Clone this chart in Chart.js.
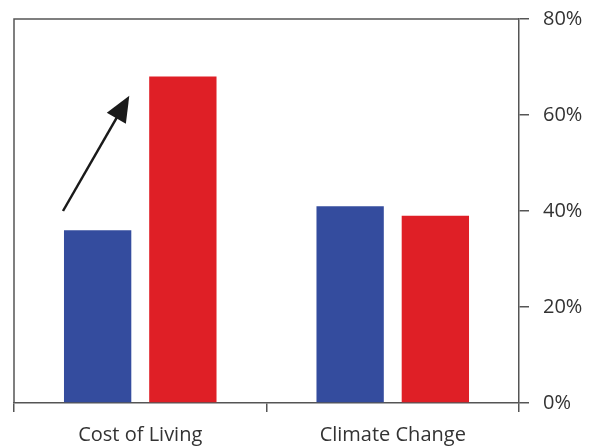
<!DOCTYPE html>
<html>
<head>
<meta charset="utf-8">
<script src="https://cdn.jsdelivr.net/npm/chart.js@4/dist/chart.umd.min.js"></script>
<style>
  html, body { margin: 0; padding: 0; background: #fff; }
  #wrap { width: 591px; height: 447px; }
</style>
</head>
<body>
<div id="wrap"><canvas id="c" width="591" height="447"></canvas></div>
<script>
// Categories and the two bar series (percent)
const categories = ['Cost of Living', 'Climate Change'];
const seriesBlue = [36, 41];
const seriesRed = [68, 39];
const yTicks = [0, 20, 40, 60, 80];

// Arrow over the first group: from the blue bar's left edge to its right edge, in percent
const arrowFrom = 40;
const arrowTo = 64;

const axisColor = '#555555';
const textColor = '#333333';
const fontFamily = "'Open Sans', 'Noto Sans', sans-serif";

// Left and top edges of the frame
const framePlugin = {
  id: 'frame',
  afterDraw(chart) {
    const { ctx, chartArea: a } = chart;
    ctx.save();
    ctx.strokeStyle = axisColor;
    ctx.lineWidth = 1.5;
    ctx.beginPath();
    ctx.moveTo(a.left, a.bottom);
    ctx.lineTo(a.left, a.top);
    ctx.lineTo(a.right, a.top);
    ctx.stroke();
    ctx.restore();
  }
};

// Rising arrow drawn from scale positions
const arrowPlugin = {
  id: 'arrow',
  afterDatasetsDraw(chart) {
    const { ctx } = chart;
    const bar = chart.getDatasetMeta(0).data[0];
    const y = chart.scales.y;
    const x0 = bar.x - bar.width / 2 - 1;
    const x1 = bar.x + bar.width / 2 - 2;
    const y0 = y.getPixelForValue(arrowFrom);
    const y1 = y.getPixelForValue(arrowTo);
    const ang = Math.atan2(y1 - y0, x1 - x0);
    const headLen = 26, headHalf = 11;
    const bx = x1 - headLen * Math.cos(ang);
    const by = y1 - headLen * Math.sin(ang);
    ctx.save();
    ctx.strokeStyle = '#1a1a1a';
    ctx.fillStyle = '#1a1a1a';
    ctx.lineWidth = 2.5;
    ctx.beginPath();
    ctx.moveTo(x0, y0);
    ctx.lineTo(bx + 4 * Math.cos(ang), by + 4 * Math.sin(ang));
    ctx.stroke();
    ctx.beginPath();
    ctx.moveTo(x1, y1);
    ctx.lineTo(bx + headHalf * Math.sin(ang), by - headHalf * Math.cos(ang));
    ctx.lineTo(bx - headHalf * Math.sin(ang), by + headHalf * Math.cos(ang));
    ctx.closePath();
    ctx.fill();
    ctx.restore();
  }
};

new Chart(document.getElementById('c'), {
  type: 'bar',
  data: {
    labels: categories,
    datasets: [
      { data: seriesBlue, backgroundColor: '#344C9E', barPercentage: 0.79, categoryPercentage: 0.675 },
      { data: seriesRed, backgroundColor: '#DF1F26', barPercentage: 0.79, categoryPercentage: 0.675 }
    ]
  },
  options: {
    responsive: false,
    animation: false,
    devicePixelRatio: 1,
    layout: { padding: { left: 14, top: 19, right: 0, bottom: 0 } },
    plugins: { legend: { display: false }, tooltip: { enabled: false } },
    scales: {
      x: {
        grid: { display: true, drawOnChartArea: false, drawTicks: true, tickLength: 9, offset: true, color: axisColor, lineWidth: 1.5 },
        border: { display: true, color: axisColor, width: 1.5 },
        ticks: { color: textColor, font: { family: fontFamily, size: 20 }, padding: 11, maxRotation: 0 },
        afterFit(s) { s.height = 44; s.paddingLeft = 0; s.paddingRight = 0; }
      },
      y: {
        position: 'right',
        min: 0, max: 80,
        afterBuildTicks(s) { s.ticks = yTicks.map(v => ({ value: v })); },
        grid: { display: true, drawOnChartArea: false, drawTicks: true, tickLength: 10, color: axisColor, lineWidth: 1.5 },
        border: { display: true, color: axisColor, width: 1.5 },
        ticks: { color: textColor, font: { family: fontFamily, size: 20 }, padding: 14, callback: v => v + '%' },
        afterFit(s) { s.width = 72; s.paddingTop = 0; s.paddingBottom = 0; }
      }
    }
  },
  plugins: [framePlugin, arrowPlugin]
});
</script>
</body>
</html>
